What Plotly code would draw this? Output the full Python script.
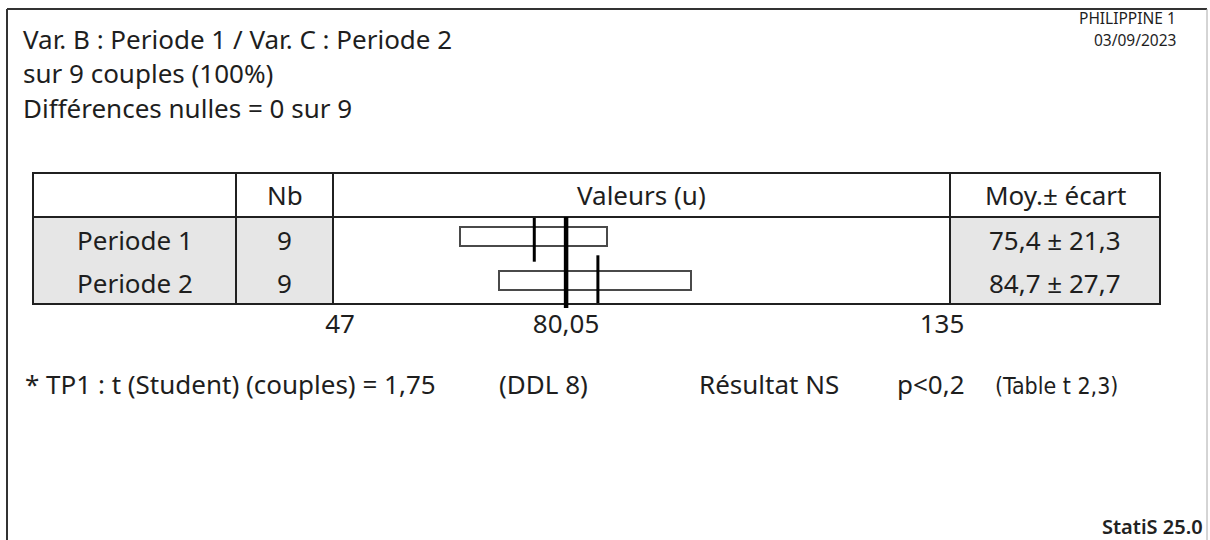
import plotly.graph_objects as go

# ---------------- data ----------------
groups = ["Periode 1", "Periode 2"]
counts = [9, 9]
means = [75.4, 84.7]
sds = [21.3, 27.7]
box_low = [64.5, 70.2]
box_high = [86.0, 98.3]
grand_mean = 80.05
axis_min, axis_max = 47, 135
tick_vals = [47, 80.05, 135]
tick_text = ["47", "80,05", "135"]

title_lines = ["Var. B : Periode 1 / Var. C : Periode 2",
               "sur 9 couples (100%)",
               "Différences nulles = 0 sur 9"]
header_cols = ["Nb", "Valeurs (u)", "Moy.± écart"]
test_parts = ["* TP1 : t (Student) (couples) = 1,75", "(DDL 8)",
              "Résultat NS", "p<0,2", "(Table t 2,3)"]
corner_top = ["PHILIPPINE 1", "03/09/2023"]
footer = "StatiS 25.0"

# ---------------- geometry helpers ----------------
W, H = 1210, 540
def X(px):
    return px / W
def Y(py):
    return 1 - py / H

FONT = "Noto Sans"
TXT = "#1e1e1e"
FS = 26

fig = go.Figure()

# boxes
fig.add_trace(go.Bar(
    y=groups, x=[h - l for l, h in zip(box_low, box_high)], base=box_low,
    orientation="h", width=0.43,
    marker=dict(color="white", line=dict(color="#4a4a4a", width=2)),
    hoverinfo="skip", showlegend=False))

# mean markers
fig.add_trace(go.Scatter(
    y=groups, x=means, mode="markers",
    marker=dict(symbol="line-ns-open", size=36, color="black",
                line=dict(color="black", width=3)),
    hoverinfo="skip", showlegend=False))

# table geometry (pixels)
tl, tr, tt, th, tb = 33, 1160, 173, 217, 304
c1, c2, c3 = 236, 333, 950

# y axis: rows
span = (tb - th) / 44.0
y_top = -(236.5 - th) / 44.0
y_bot = y_top + span

shapes = []
# gray cells
shapes.append(dict(type="rect", xref="paper", yref="paper", x0=X(tl), x1=X(c2), y0=Y(tb), y1=Y(th),
                   fillcolor="#e6e6e6", line=dict(width=0), layer="below"))
shapes.append(dict(type="rect", xref="paper", yref="paper", x0=X(c3), x1=X(tr), y0=Y(tb), y1=Y(th),
                   fillcolor="#e6e6e6", line=dict(width=0), layer="below"))
# table frame
shapes.append(dict(type="rect", xref="paper", yref="paper", x0=X(tl), x1=X(tr), y0=Y(tb), y1=Y(tt),
                   line=dict(color="#202020", width=2)))
shapes.append(dict(type="line", xref="paper", yref="paper", x0=X(tl), x1=X(tr), y0=Y(th), y1=Y(th),
                   line=dict(color="#202020", width=2)))
for c in (c1, c2, c3):
    shapes.append(dict(type="line", xref="paper", yref="paper", x0=X(c), x1=X(c), y0=Y(tb), y1=Y(tt),
                       line=dict(color="#202020", width=2)))
# outer frame
shapes.append(dict(type="line", xref="paper", yref="paper", x0=X(7), x1=X(7), y0=0, y1=Y(9),
                   line=dict(color="#333333", width=2)))
shapes.append(dict(type="line", xref="paper", yref="paper", x0=X(7), x1=X(1207), y0=Y(9), y1=Y(9),
                   line=dict(color="#333333", width=2)))
shapes.append(dict(type="line", xref="paper", yref="paper", x0=X(1207), x1=X(1207), y0=0, y1=Y(9),
                   line=dict(color="#aaaaaa", width=1)))
# grand mean line
shapes.append(dict(type="line", xref="x", yref="paper", x0=grand_mean, x1=grand_mean,
                   y0=Y(308), y1=Y(th), line=dict(color="black", width=4.5)))

ann = []
def text(s, px, py, size=FS, xanchor="left", color=TXT, family=FONT, weight=None):
    f = dict(family=family, size=size, color=color)
    if weight:
        f["weight"] = weight
    ann.append(dict(text=s, x=X(px), y=Y(py), xref="paper", yref="paper", showarrow=False,
                    xanchor=xanchor, yanchor="middle", font=f))

for i, s in enumerate(title_lines):
    text(s, 21, [39, 73, 108][i])
text(corner_top[0], 1178, 18, size=15.5, xanchor="right")
text(corner_top[1], 1178, 40, size=15.5, xanchor="right")

text(header_cols[0], (c1 + c2) / 2, 195, xanchor="center")
text(header_cols[1], 641, 195, xanchor="center")
text(header_cols[2], (c3 + tr) / 2, 195, xanchor="center")

row_y = [240, 283]
for i, g in enumerate(groups):
    text(g, (tl + c1) / 2, row_y[i], xanchor="center")
    text(str(counts[i]), (c1 + c2) / 2, row_y[i], xanchor="center")
    s = f"{means[i]:.1f} ± {sds[i]:.1f}".replace(".", ",")
    text(s, (c3 + tr) / 2, row_y[i], xanchor="center")

tx = [23, 497, 697, 895, 993]
for i, s in enumerate(test_parts):
    if i == 4:
        text(s, tx[i], 386, size=23, family="Liberation Sans Narrow, DejaVu Sans Condensed, Noto Sans")
    else:
        text(s, tx[i], 384)

text(footer, 1205, 526, size=20, xanchor="right", color="#222222", weight=600)

fig.update_layout(
    width=W, height=H, margin=dict(l=0, r=0, t=0, b=0, autoexpand=False),
    paper_bgcolor="white", plot_bgcolor="rgba(0,0,0,0)",
    shapes=shapes, annotations=ann, showlegend=False, bargap=0,
    xaxis=dict(domain=[X(340), X(942)], range=[axis_min, axis_max],
               tickvals=tick_vals, ticktext=tick_text, showgrid=False, zeroline=False,
               showline=False, ticks="", ticklabelstandoff=2,
               tickfont=dict(family=FONT, size=FS, color=TXT), fixedrange=True),
    yaxis=dict(domain=[Y(tb), Y(th)], range=[y_bot, y_top], type="category",
               showgrid=False, zeroline=False, showline=False, showticklabels=False,
               fixedrange=True),
)

fig.write_html("out.html", config={"displayModeBar": False},
               post_script="document.body.style.margin='0px';")
